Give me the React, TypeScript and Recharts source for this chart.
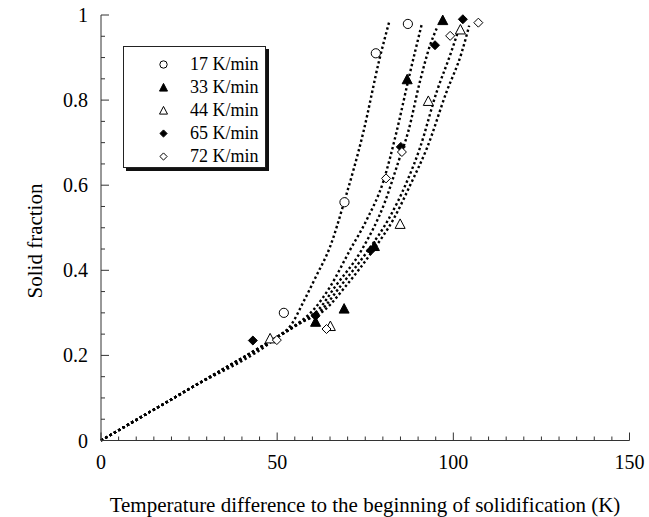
import React from "react";
import { ComposedChart, Line, Scatter, XAxis, YAxis, Label, Legend } from "recharts";

const FONT = "'Liberation Serif', 'Times New Roman', serif";

// axis ticks
const xTicks = [0, 5, 10, 15, 20, 25, 30, 35, 40, 45, 50, 55, 60, 65, 70, 75, 80, 85, 90, 95, 100, 105, 110, 115, 120, 125, 130, 135, 140, 145, 150];
const xMajor = [0, 50, 100, 150];
const yTicks = [0, 0.05, 0.1, 0.15, 0.2, 0.25, 0.3, 0.35, 0.4, 0.45, 0.5, 0.55, 0.6, 0.65, 0.7, 0.75, 0.8, 0.85, 0.9, 0.95, 1];
const yMajor = [0, 0.2, 0.4, 0.6, 0.8, 1];

const rateLabels = ["17 K/min", "33 K/min", "44 K/min", "65 K/min", "72 K/min"];
const markerKinds = ["circle", "triangleFilled", "triangle", "diamondFilled", "diamond"];

// measured points
const meas17 = [
    { x: 51.9, y: 0.3 }, { x: 69.1, y: 0.56 }, { x: 78.0, y: 0.91 }, { x: 87.1, y: 0.979 },
];
const meas33 = [
    { x: 60.9, y: 0.279 }, { x: 69.0, y: 0.31 }, { x: 77.6, y: 0.457 }, { x: 86.9, y: 0.849 }, { x: 97.0, y: 0.988 },
];
const meas44 = [
    { x: 48.0, y: 0.24 }, { x: 65.1, y: 0.269 }, { x: 84.9, y: 0.509 }, { x: 92.9, y: 0.798 }, { x: 102.0, y: 0.966 },
];
const meas65 = [
    { x: 43.1, y: 0.235 }, { x: 60.9, y: 0.293 }, { x: 76.6, y: 0.447 }, { x: 85.1, y: 0.69 }, { x: 94.8, y: 0.929 }, { x: 102.7, y: 0.99 },
];
const meas72 = [
    { x: 49.9, y: 0.236 }, { x: 64.0, y: 0.262 }, { x: 80.9, y: 0.616 }, { x: 85.4, y: 0.678 }, { x: 99.1, y: 0.951 }, { x: 107.1, y: 0.982 },
];

// fitted curves (dotted)
const fit17 = [
    { x: 0, y: 0 }, { x: 25, y: 0.121 }, { x: 50, y: 0.243 }, { x: 54, y: 0.272 }, { x: 57.4, y: 0.325 },
    { x: 61, y: 0.385 }, { x: 65, y: 0.455 }, { x: 69, y: 0.56 }, { x: 74.5, y: 0.726 }, { x: 79, y: 0.895 }, { x: 81.8, y: 0.984 },
];
const fit33 = [
    { x: 0, y: 0 }, { x: 25, y: 0.121 }, { x: 50, y: 0.243 }, { x: 55, y: 0.27 }, { x: 60.3, y: 0.307 }, { x: 65, y: 0.361 },
    { x: 70.7, y: 0.448 }, { x: 75.5, y: 0.52 }, { x: 80.1, y: 0.608 }, { x: 83.9, y: 0.726 }, { x: 87.3, y: 0.85 }, { x: 91, y: 0.977 },
];
const fit44 = [
    { x: 0, y: 0 }, { x: 25, y: 0.121 }, { x: 50, y: 0.243 }, { x: 57, y: 0.278 }, { x: 63.5, y: 0.307 }, { x: 69.3, y: 0.361 },
    { x: 77.3, y: 0.448 }, { x: 83, y: 0.52 }, { x: 88.2, y: 0.608 }, { x: 92.5, y: 0.687 }, { x: 98.1, y: 0.82 }, { x: 102.3, y: 0.91 }, { x: 104.5, y: 0.975 },
];
const fit65 = [
    { x: 0, y: 0 }, { x: 25, y: 0.121 }, { x: 50, y: 0.243 }, { x: 56, y: 0.275 }, { x: 62, y: 0.31 }, { x: 66.4, y: 0.361 },
    { x: 74, y: 0.448 }, { x: 80.6, y: 0.561 }, { x: 84.4, y: 0.655 }, { x: 87.2, y: 0.726 }, { x: 90.5, y: 0.843 }, { x: 93.4, y: 0.929 }, { x: 95.3, y: 0.969 },
];
const fit72 = [
    { x: 0, y: 0 }, { x: 25, y: 0.121 }, { x: 50, y: 0.243 }, { x: 56.5, y: 0.276 }, { x: 62.6, y: 0.307 }, { x: 67.8, y: 0.361 },
    { x: 75.9, y: 0.448 }, { x: 81.6, y: 0.52 }, { x: 86.8, y: 0.608 }, { x: 90.5, y: 0.687 }, { x: 95.3, y: 0.82 }, { x: 99.1, y: 0.906 }, { x: 101.5, y: 0.965 },
];

const measured = [meas17, meas33, meas44, meas65, meas72];
const fits = [fit17, fit33, fit44, fit65, fit72];

function Marker({ kind, cx, cy, s = 1 }: { kind: string; cx: number; cy: number; s?: number }) {
    const stroke = "#000";
    if (kind === "circle") {
        return <circle cx={cx} cy={cy} r={4.6 * s} fill="#fff" stroke={stroke} strokeWidth={1} />;
    }
    if (kind === "triangle" || kind === "triangleFilled") {
        const w = 5 * s, h = 4.5 * s;
        const pts = `${cx},${cy - h - 0.5} ${cx + w},${cy + h} ${cx - w},${cy + h}`;
        return <polygon points={pts} fill={kind === "triangleFilled" ? "#000" : "#fff"} stroke={stroke} strokeWidth={1} />;
    }
    const d = 4.5 * s;
    const pts = `${cx},${cy - d} ${cx + d},${cy} ${cx},${cy + d} ${cx - d},${cy}`;
    return <polygon points={pts} fill={kind === "diamondFilled" ? "#000" : "#fff"} stroke={stroke} strokeWidth={1} />;
}

function BottomTick({ x, y, payload }: any) {
    const major = xMajor.includes(payload.value);
    return (
        <g>
            <line x1={x} y1={y} x2={x} y2={y - (major ? 8 : 4)} stroke="#333" />
            {major && (
                <text x={x} y={y + 28} textAnchor="middle" fontSize={20} fontFamily={FONT} fill="#000">
                    {payload.value}
                </text>
            )}
        </g>
    );
}

function TopTick({ x, y, payload }: any) {
    const major = xMajor.includes(payload.value);
    return <line x1={x} y1={y} x2={x} y2={y + (major ? 8 : 4)} stroke="#333" />;
}

function LeftTick({ x, y, payload }: any) {
    const major = yMajor.some((v) => Math.abs(v - payload.value) < 1e-6);
    return (
        <g>
            <line x1={x} y1={y} x2={x + (major ? 8 : 4)} y2={y} stroke="#333" />
            {major && (
                <text x={x - 13} y={y} dy="0.35em" textAnchor="end" fontSize={20} fontFamily={FONT} fill="#000">
                    {payload.value}
                </text>
            )}
        </g>
    );
}

function RightTick({ x, y, payload }: any) {
    const major = yMajor.some((v) => Math.abs(v - payload.value) < 1e-6);
    return <line x1={x} y1={y} x2={x - (major ? 8 : 4)} y2={y} stroke="#333" />;
}

function LegendBox() {
    return (
        <div
            style={{
                width: 143,
                height: 122,
                border: "1px solid #222",
                boxShadow: "3px 3px 0 #111",
                background: "#fff",
                boxSizing: "border-box",
                paddingTop: 6,
                fontFamily: FONT,
                fontSize: 18,
                color: "#000",
            }}
        >
            {rateLabels.map((label, i) => (
                <div key={label} style={{ display: "flex", alignItems: "center", height: 23 }}>
                    <svg width={66} height={23}>
                        <Marker kind={markerKinds[i]} cx={39.5} cy={11.5} s={0.8} />
                    </svg>
                    <span style={{ lineHeight: "23px" }}>{label}</span>
                </div>
            ))}
        </div>
    );
}

export default function App() {
    return (
        <div style={{ position: "absolute", left: 0, top: 0, width: 649, height: 517, background: "#fff", fontFamily: FONT }}>
            <ComposedChart width={649} height={517} margin={{ top: 15, right: 19.5, bottom: 46.5, left: 41 }}>
                <XAxis
                    dataKey="x"
                    type="number"
                    domain={[0, 150]}
                    ticks={xTicks}
                    interval={0}
                    tickSize={0}
                    tickMargin={0}
                    tick={<BottomTick />}
                    axisLine={{ stroke: "#333" }}
                    height={30}
                >
                    <Label
                        content={() => (
                            <text x={365} y={512} textAnchor="middle" fontSize={21} fontFamily={FONT} fill="#000">
                                Temperature difference to the beginning of solidification (K)
                            </text>
                        )}
                    />
                </XAxis>
                <XAxis
                    xAxisId="top"
                    orientation="top"
                    dataKey="x"
                    type="number"
                    domain={[0, 150]}
                    ticks={xTicks}
                    interval={0}
                    tickSize={0}
                    tickMargin={0}
                    tick={<TopTick />}
                    axisLine={{ stroke: "#333" }}
                    height={0}
                />
                <YAxis
                    type="number"
                    domain={[0, 1]}
                    ticks={yTicks}
                    interval={0}
                    tickSize={0}
                    tickMargin={0}
                    tick={<LeftTick />}
                    axisLine={{ stroke: "#333" }}
                    width={60}
                >
                    <Label
                        content={() => (
                            <text
                                x={42}
                                y={241}
                                transform="rotate(-90 42 241)"
                                textAnchor="middle"
                                fontSize={21}
                                fontFamily={FONT}
                                fill="#000"
                            >
                                Solid fraction
                            </text>
                        )}
                    />
                </YAxis>
                <YAxis
                    yAxisId="right"
                    orientation="right"
                    type="number"
                    domain={[0, 1]}
                    ticks={yTicks}
                    interval={0}
                    tickSize={0}
                    tickMargin={0}
                    tick={<RightTick />}
                    axisLine={{ stroke: "#333" }}
                    width={0}
                />
                {fits.map((fit, i) => (
                    <Line
                        key={`fit-${i}`}
                        data={fit}
                        dataKey="y"
                        type="monotone"
                        stroke="#000"
                        strokeWidth={2.4}
                        strokeDasharray="2.4 2.6"
                        dot={false}
                        activeDot={false}
                        legendType="none"
                        isAnimationActive={false}
                    />
                ))}
                {measured.map((pts, i) => (
                    <Scatter
                        key={`meas-${i}`}
                        name={rateLabels[i]}
                        data={pts}
                        dataKey="y"
                        shape={(p: any) => <Marker kind={markerKinds[i]} cx={p.cx} cy={p.cy} />}
                        isAnimationActive={false}
                    />
                ))}
                <Legend
                    layout="vertical"
                    align="center"
                    verticalAlign="middle"
                    wrapperStyle={{ left: 123, top: 46, width: 143, height: 122 }}
                    content={() => <LegendBox />}
                />
            </ComposedChart>
        </div>
    );
}
